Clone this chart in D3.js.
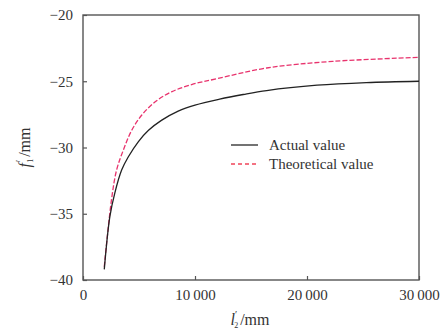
<!DOCTYPE html>
<html>
<head>
<meta charset="utf-8">
<script src="https://cdn.jsdelivr.net/npm/d3@7"></script>
<style>
  body { margin: 0; background: #fff; }
  svg { display: block; }
</style>
</head>
<body>
<div id="chart"></div>
<script>
// values
const actualX = [1900, 2400, 2850, 3450, 4050, 4950, 5850, 7000, 8500, 10000, 12200, 14300, 16400, 20900, 25300, 30000]
const actualY = [-39.2, -35.2, -33.4, -31.7, -30.7, -29.55, -28.7, -27.95, -27.25, -26.8, -26.35, -26.0, -25.7, -25.3, -25.1, -25.0]
const theoX = [1900, 2550, 3000, 3600, 4350, 5250, 6450, 7900, 9700, 12000, 16400, 22300, 30000]
const theoY = [-39.0, -33.9, -31.7, -30.2, -28.7, -27.55, -26.55, -25.8, -25.25, -24.8, -24.0, -23.5, -23.2]
const xTicks = [0, 10000, 20000, 30000]
const yTicks = [-20, -25, -30, -35, -40]
const seriesNames = ['Actual value', 'Theoretical value']

const width = 448
const height = 331
const margin = { top: 15, right: 29, bottom: 51, left: 83 }
const serif = 'Liberation Serif, DejaVu Serif, serif'

const svg = d3.select('#chart')
  .append('svg')
  .attr('width', width)
  .attr('height', height)
  .style('font-family', serif)

const x = d3.scaleLinear().domain([0, 30000]).range([margin.left, width - margin.right])
const y = d3.scaleLinear().domain([-40, -20]).range([height - margin.bottom, margin.top])

const fmtX = d => d === 0 ? '0' : d3.format(',')(d).replace(',', '\u2009')
const fmtY = d => '\u2212' + Math.abs(d)

// ── AXES (ticks point inward) ─────────────────────────────────
const axisColor = '#555'
svg.append('g')
  .attr('transform', `translate(0,${y(-40)})`)
  .call(d3.axisBottom(x).tickValues(xTicks).tickSizeInner(-4).tickSizeOuter(0).tickPadding(9).tickFormat(fmtX))
  .call(g => g.select('.domain').remove())
  .call(g => g.selectAll('line').attr('stroke', axisColor).attr('stroke-width', 1.2))
  .call(g => g.selectAll('text').attr('fill', '#333').style('font-family', serif).style('font-size', '15px'))

svg.append('g')
  .attr('transform', `translate(${x(0)},0)`)
  .call(d3.axisLeft(y).tickValues(yTicks).tickSizeInner(-4).tickSizeOuter(0).tickPadding(10).tickFormat(fmtY))
  .call(g => g.select('.domain').remove())
  .call(g => g.selectAll('line').attr('stroke', axisColor).attr('stroke-width', 1.2))
  .call(g => g.selectAll('text').attr('fill', '#333').style('font-family', serif).style('font-size', '15px'))

// frame
svg.append('rect')
  .attr('x', x(0))
  .attr('y', y(-20))
  .attr('width', x(30000) - x(0))
  .attr('height', y(-40) - y(-20))
  .attr('fill', 'none')
  .attr('stroke', axisColor)
  .attr('stroke-width', 1.4)

// ── LINES ─────────────────────────────────────────────────────
const line = d3.line()
  .x(d => x(d[0]))
  .y(d => y(d[1]))
  .curve(d3.curveCatmullRom.alpha(0.5))

svg.append('path')
  .datum(d3.zip(theoX, theoY))
  .attr('d', line)
  .attr('fill', 'none')
  .attr('stroke', '#e8336d')
  .attr('stroke-width', 1.3)
  .attr('stroke-dasharray', '5,2')

svg.append('path')
  .datum(d3.zip(actualX, actualY))
  .attr('d', line)
  .attr('fill', 'none')
  .attr('stroke', '#222')
  .attr('stroke-width', 1.3)

// ── LEGEND ────────────────────────────────────────────────────
const legend = svg.append('g').attr('transform', 'translate(231,145)')
const legendStyles = [
  { color: '#444', dash: null },
  { color: '#f0445a', dash: '4,3' }
]
seriesNames.forEach((name, i) => {
  const row = legend.append('g').attr('transform', `translate(0,${i * 19})`)
  row.append('line')
    .attr('x1', 0).attr('x2', 27)
    .attr('stroke', legendStyles[i].color)
    .attr('stroke-width', 1.5)
    .attr('stroke-dasharray', legendStyles[i].dash)
  row.append('text')
    .attr('x', 38)
    .attr('dy', '0.33em')
    .attr('font-size', 15)
    .attr('fill', '#333')
    .text(name)
})

// ── AXIS TITLES ───────────────────────────────────────────────
const xt = svg.append('text')
  .attr('x', 250)
  .attr('y', 325)
  .attr('text-anchor', 'middle')
  .attr('font-size', 16)
  .attr('fill', '#333')
xt.append('tspan').attr('font-style', 'italic').text('l')
xt.append('tspan').attr('font-size', 10).attr('dy', -7).attr('dx', 0).text('\u2032')
xt.append('tspan').attr('font-size', 8).attr('dy', 10).attr('dx', -3).text('2')
xt.append('tspan').attr('dy', -3).attr('dx', 2).text('/mm')

const yt = svg.append('text')
  .attr('transform', `translate(30,${y(-30)}) rotate(-90)`)
  .attr('text-anchor', 'middle')
  .attr('font-size', 16)
  .attr('fill', '#333')
yt.append('tspan').attr('font-style', 'italic').text('f')
yt.append('tspan').attr('font-size', 10).attr('dy', -7).attr('dx', 1).text('\u2032')
yt.append('tspan').attr('font-size', 8).attr('dy', 10).attr('dx', -3).text('1')
yt.append('tspan').attr('dy', -3).attr('dx', 2).text('/mm')
</script>
</body>
</html>
